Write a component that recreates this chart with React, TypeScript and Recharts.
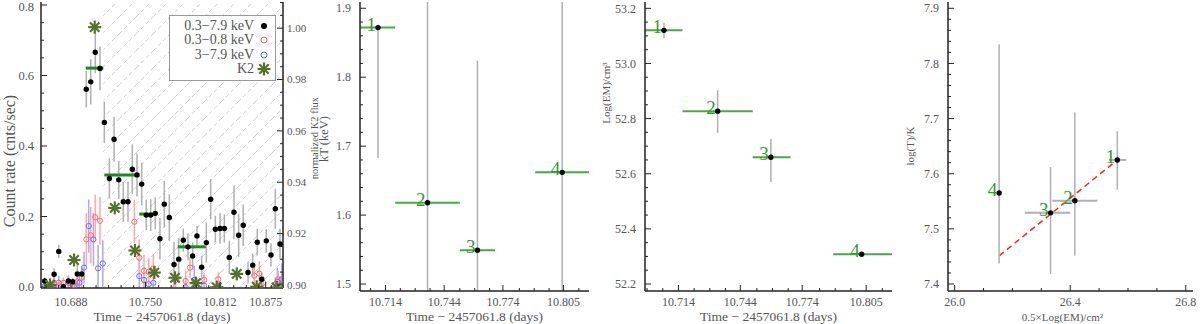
import React from 'react';
import {
  ComposedChart, Scatter, XAxis, YAxis, ErrorBar, ReferenceArea, ReferenceLine, Legend,
} from 'recharts';

// ---------- panel 1: X-ray light curve + K2 ----------
const lcTime = [10.6661, 10.6739, 10.6778, 10.6816, 10.6858, 10.6894, 10.6932, 10.6969, 10.7007, 10.7044,
  10.7082, 10.7121, 10.7157, 10.7199, 10.7238, 10.7277, 10.7315, 10.7354, 10.739, 10.7429,
  10.7468, 10.7506, 10.7543, 10.7581, 10.762, 10.7656, 10.7698, 10.7737, 10.7776, 10.7814,
  10.7853, 10.7892, 10.7928, 10.7967, 10.8006, 10.8042, 10.8081, 10.812, 10.8156, 10.8197,
  10.8236, 10.8275, 10.8313, 10.8353, 10.8392, 10.843, 10.8467, 10.8505, 10.8544, 10.858, 10.8619];
const lcRate = [0.017, 0.036, 0.101, 0.001, 0.017, 0.015, 0.037, 0.037, 0.561, 0.582,
  0.666, 0.62, 0.467, 0.308, 0.419, 0.304, 0.242, 0.242, 0.334, 0.318,
  0.292, 0.204, 0.204, 0.209, 0.137, 0.235, 0.197, 0.064, 0.079, 0.133,
  0.114, 0.088, 0.145, 0.056, 0.126, 0.249, 0.164, 0.166, 0.166, 0.084,
  0.212, 0.147, 0.175, 0.041, 0.062, 0.127, 0.022, 0.131, 0.091, 0.222, 0.122];
const lcErr = [0.01, 0.017, 0.019, 0.005, 0.01, 0.01, 0.035, 0.02, 0.052, 0.064,
  0.059, 0.062, 0.059, 0.057, 0.064, 0.054, 0.057, 0.057, 0.071, 0.061,
  0.061, 0.043, 0.045, 0.045, 0.059, 0.066, 0.066, 0.064, 0.061, 0.033,
  0.038, 0.038, 0.028, 0.033, 0.057, 0.057, 0.038, 0.043, 0.04, 0.047,
  0.076, 0.061, 0.059, 0.031, 0.033, 0.038, 0.019, 0.033, 0.033, 0.057, 0.043];

const softTime = [10.6739, 10.6778, 10.6816, 10.6858, 10.6894, 10.6932, 10.6969, 10.7007, 10.7044, 10.7082,
  10.7121, 10.7407, 10.7448, 10.7487, 10.7526, 10.7565, 10.7751, 10.7834, 10.787, 10.7989,
  10.8106, 10.8405, 10.8447, 10.848, 10.858, 10.8605];
const softRate = [0.012, 0.005, 0.012, 0.015, 0.004, 0.015, 0.027, 0.135, 0.147, 0.198,
  0.188, 0.185, 0.083, 0.046, 0.043, 0.053, 0.02, 0.017, 0.055, 0.02,
  0.022, 0.032, 0.038, 0.012, 0.008, 0.022];
const softErr = [0.015, 0.015, 0.015, 0.02, 0.015, 0.02, 0.03, 0.075, 0.08, 0.064,
  0.068, 0.062, 0.052, 0.045, 0.04, 0.04, 0.02, 0.03, 0.03, 0.02,
  0.02, 0.03, 0.035, 0.02, 0.02, 0.025];

const hardTime = [10.6661, 10.6739, 10.6778, 10.6858, 10.6907, 10.6949, 10.6988, 10.7027, 10.7066, 10.7105,
  10.7144, 10.7448, 10.7487, 10.7526, 10.7565, 10.7834, 10.7906, 10.7987, 10.8106, 10.8597, 10.8633];
const hardRate = [0.003, 0.008, 0.012, 0.012, 0.0, 0.012, 0.055, 0.173, 0.135, 0.053,
  0.067, 0.031, 0.02, 0.008, 0.012, 0.0, 0.02, 0.004, 0.002, 0.015, 0.022];
const hardErr = [0.01, 0.015, 0.02, 0.02, 0.015, 0.02, 0.045, 0.075, 0.075, 0.066,
  0.066, 0.05, 0.04, 0.04, 0.04, 0.03, 0.04, 0.03, 0.02, 0.04, 0.045];

const k2Time = [10.6705, 10.6905, 10.7077, 10.7244, 10.7412, 10.7573, 10.7745, 10.792, 10.8092, 10.8259, 10.8425, 10.8591];
const k2Flux = [0.9, 0.9097, 1.0004, 0.93, 0.9134, 0.9048, 0.9028, 0.9007, 0.8991, 0.9043, 0.8993, 0.899];

const binStart = [10.7002, 10.7157, 10.7448, 10.7768];
const binEnd = [10.7149, 10.7448, 10.7593, 10.8001];
const binRate = [0.621, 0.318, 0.207, 0.114];
const hatchStart = 10.7149;

const legendLabels = ['0.3\u22127.9 keV', '0.3\u22120.8 keV', '3\u22127.9 keV', 'K2'];

const x1Major = [10.688, 10.75, 10.812, 10.85];
const x1Labels = ['10.688', '10.750', '10.812', '10.875'];
const y1Major = [0, 0.2, 0.4, 0.6, 0.8];
const y1Labels = ['0.0', '0.2', '0.4', '0.6', '0.8'];
const k2Major = [0.9, 0.92, 0.94, 0.96, 0.98, 1.0];
const k2Labels = ['0.90', '0.92', '0.94', '0.96', '0.98', '1.00'];

// ---------- panels 2-4: spectral fits per interval ----------
const segNames = ['1', '2', '3', '4'];

const ktTime = [10.7102, 10.7355, 10.761, 10.8043];
const ktVal = [1.872, 1.618, 1.549, 1.662];
const ktLo = [1.683, 1.3, 1.3, 1.3];
const ktHi = [1.876, 2.0, 1.824, 2.0];
const ktBinLo = [10.69, 10.719, 10.752, 10.7905];
const ktBinHi = [10.719, 10.752, 10.77, 10.83];

const emTime = [10.707, 10.733, 10.7588, 10.8028];
const emVal = [53.12, 52.827, 52.66, 52.308];
const emLo = [53.091, 52.748, 52.57, 52.302];
const emHi = [53.148, 52.903, 52.727, 52.314];
const emBinLo = [10.69, 10.716, 10.75, 10.789];
const emBinHi = [10.716, 10.75, 10.7684, 10.83];

const halfEm = [26.563, 26.416, 26.332, 26.154];
const halfEmLo = [26.534, 26.338, 26.243, 26.154];
const halfEmHi = [26.594, 26.494, 26.4, 26.154];
const logT = [7.625, 7.551, 7.529, 7.565];
const logTLo = [7.571, 7.451, 7.418, 7.437];
const logTHi = [7.677, 7.711, 7.612, 7.835];
const fitX = [26.154, 26.563];
const fitY = [7.451, 7.625];

const tMajor = [10.714, 10.744, 10.774, 10.805];
const tLabels = ['10.714', '10.744', '10.774', '10.805'];
const ktMajor = [1.5, 1.6, 1.7, 1.8, 1.9];
const ktLabels = ['1.5', '1.6', '1.7', '1.8', '1.9'];
const emMajor = [52.2, 52.4, 52.6, 52.8, 53.0, 53.2];
const emLabels = ['52.2', '52.4', '52.6', '52.8', '53.0', '53.2'];
const hxMajor = [26.0, 26.4, 26.8];
const hxLabels = ['26.0', '26.4', '26.8'];
const hyMajor = [7.4, 7.5, 7.6, 7.7, 7.8, 7.9];
const hyLabels = ['7.4', '7.5', '7.6', '7.7', '7.8', '7.9'];

// ---------- styling ----------
const FONT = "'Liberation Serif', 'Times New Roman', serif";
const INK = '#222';
const TXT = '#555';
const ERR = '#b0b0b0';
const K2C = '#55702a';
const BIN = '#1f8a1f';
const SEG = '#4aa84a';
const NUM = '#2f9a2f';

type Side = 'bottom' | 'top' | 'left' | 'right';
type Dom = [number, number];

const withMinor = (major: number[], lo: number, hi: number, step: number) => {
  const out: number[] = [...major];
  let v = major[0];
  while (v - step >= lo) v -= step;
  for (; v <= hi + 1e-9; v += step) {
    if (v >= lo && !major.some(m => Math.abs(m - v) < step / 2.5)) out.push(+v.toFixed(6));
  }
  return out.sort((a, b) => a - b);
};

// error bar extents clipped to the visible axis range
const span = (v: number, lo: number, hi: number, d: Dom) => [v - Math.max(lo, d[0]), Math.min(hi, d[1]) - v];

const makeTick = (side: Side, major: number[], labels: string[] | null, fontSize = 12, gap = 0) =>
  (props: any) => {
    const { x, y, payload } = props;
    const i = major.findIndex(m => Math.abs(m - payload.value) < 1e-6);
    const len = i >= 0 ? 6 : 3;
    const dx = side === 'left' ? len : side === 'right' ? -len : 0;
    const dy = side === 'bottom' ? -len : side === 'top' ? len : 0;
    let label = null;
    if (labels && i >= 0) {
      const c = { fill: TXT, fontSize, fontFamily: FONT };
      const ly = Math.max(y, fontSize * 0.55); // keep the top label inside the picture
      if (side === 'bottom') label = <text x={x} y={y + gap} textAnchor="middle" {...c}>{labels[i]}</text>;
      if (side === 'left') label = <text x={x - gap} y={ly} dy="0.35em" textAnchor="end" {...c}>{labels[i]}</text>;
      if (side === 'right') label = <text x={x + gap} y={ly} dy="0.35em" textAnchor="start" {...c}>{labels[i]}</text>;
    }
    return (
      <g>
        <line x1={x} y1={y} x2={x + dx} y2={y + dy} stroke={INK} strokeWidth={1} />
        {label}
      </g>
    );
  };

const vTitle = (text: string, cx: number, cy: number, size: number) => () => (
  <text x={cx} y={cy} transform={`rotate(-90 ${cx} ${cy})`} textAnchor="middle" dominantBaseline="central"
    fontSize={size} fill={TXT} fontFamily={FONT}>{text}</text>
);

const hTitle = (text: string, size: number, cxShift = 0) => (props: any) => {
  const vb = props.viewBox;
  return (
    <text x={vb.x + vb.width / 2 + cxShift} y={vb.y + vb.height - 3} textAnchor="middle"
      fontSize={size} fill={TXT} fontFamily={FONT}>{text}</text>
  );
};

const axisLine = { stroke: INK, strokeWidth: 1.5 };
const common = { tickSize: 0, tickMargin: 0, tickLine: false, interval: 0 as const, allowDataOverflow: true, type: 'number' as const };

const Dot = (r: number, fill: string) => (p: any) => <circle cx={p.cx} cy={p.cy} r={r} fill={fill} />;
const Ring = (r: number, stroke: string) => (p: any) => <circle cx={p.cx} cy={p.cy} r={r} fill="none" stroke={stroke} strokeWidth={1} />;
const Star = (p: any) => {
  const r = 6.5, d = r * 0.72;
  const { cx, cy } = p;
  return (
    <g stroke={K2C} strokeWidth={2.2}>
      <line x1={cx - r} y1={cy} x2={cx + r} y2={cy} />
      <line x1={cx} y1={cy - r} x2={cx} y2={cy + r} />
      <line x1={cx - d} y1={cy - d} x2={cx + d} y2={cy + d} />
      <line x1={cx - d} y1={cy + d} x2={cx + d} y2={cy - d} />
    </g>
  );
};
const Blank = () => <g />;
const NumDot = (p: any) => (
  <g>
    <circle cx={p.cx} cy={p.cy} r={2.7} fill="#000" />
    <text x={p.cx - 2} y={p.cy + 3} textAnchor="end" fontSize={19} fill={NUM} fontFamily={FONT}>{p.payload.n}</text>
  </g>
);

const markers = [
  <circle cx={8} cy={6} r={3} fill="#000" />,
  <circle cx={8} cy={6} r={3} fill="none" stroke="#ff6a6a" />,
  <circle cx={8} cy={6} r={3} fill="none" stroke="#6a6aff" />,
  <Star cx={8} cy={6} />,
];

const LegendBox = () => (
  <div style={{ border: '1px solid #999', background: '#fff', padding: '3px 3px 4px 4px', width: 98, boxSizing: 'content-box' }}>
    {legendLabels.map((l, i) => (
      <div key={l} style={{ display: 'flex', justifyContent: 'flex-end', alignItems: 'center', height: 14.3, fontSize: 14, color: TXT, fontFamily: FONT, whiteSpace: 'nowrap' }}>
        <span>{l}</span>
        <svg width={16} height={12} style={{ marginLeft: 2, overflow: 'visible' }}>{markers[i]}</svg>
      </div>
    ))}
  </div>
);

// ---------- panel 1 ----------
const X1DOM: Dom = [10.663, 10.8644];
const Y1DOM: Dom = [-0.0028, 0.8085];
const K2DOM: Dom = [0.8988, 1.0102];
const x1Ticks = withMinor(x1Major, X1DOM[0], X1DOM[1], 0.0625 / 6);
const y1Ticks = withMinor(y1Major, Y1DOM[0], Y1DOM[1], 0.05);
const k2Ticks = withMinor(k2Major, K2DOM[0], K2DOM[1], 0.005);

const rateRows = (ts: number[], vs: number[], es: number[]) =>
  ts.map((x, i) => ({ x, y: vs[i], ey: span(vs[i], vs[i] - es[i], vs[i] + es[i], Y1DOM) }));
const lcData = rateRows(lcTime, lcRate, lcErr);
const softData = rateRows(softTime, softRate, softErr);
const hardData = rateRows(hardTime, hardRate, hardErr);
const k2Data = k2Time.map((x, i) => ({ x, y: k2Flux[i] }));

const LightCurve = () => (
  <ComposedChart width={330} height={324} margin={{ top: 2, right: 10, bottom: 0, left: 0 }}>
    <defs>
      <pattern id="hatch" patternUnits="userSpaceOnUse" width={17} height={17}>
        <path d="M0,17 L17,0 M-2,2 L2,-2 M15,19 L19,15" stroke="#cdcdcd" strokeWidth={0.9} strokeDasharray="4 3" />
      </pattern>
    </defs>
    <XAxis xAxisId="b" dataKey="x" domain={X1DOM} ticks={x1Ticks} {...common} height={36} axisLine={axisLine}
      tick={makeTick('bottom', x1Major, x1Labels, 12, 18)}
      label={hTitle('Time \u2212 2457061.8 (days)', 13.5)} />
    <XAxis xAxisId="t" dataKey="x" orientation="top" domain={X1DOM} ticks={x1Ticks} {...common} height={0} axisLine={axisLine}
      tick={makeTick('top', x1Major, null)} />
    <YAxis yAxisId="l" dataKey="y" domain={Y1DOM} ticks={y1Ticks} {...common} width={41} axisLine={axisLine}
      tick={makeTick('left', y1Major, y1Labels, 12.5, 7)}
      label={vTitle('Count rate (cnts/sec)', 9, 161, 16)} />
    <YAxis yAxisId="r" dataKey="y" orientation="right" domain={K2DOM} ticks={k2Ticks} {...common} width={37} axisLine={axisLine}
      tick={makeTick('right', k2Major, k2Labels, 11, 4)}
      label={vTitle('normalized K2 flux', 314, 138, 10.5)} />
    <ReferenceArea xAxisId="b" yAxisId="l" x1={hatchStart} x2={X1DOM[1]} y1={Y1DOM[0]} y2={Y1DOM[1]} fill="url(#hatch)" fillOpacity={1} stroke="none" ifOverflow="hidden" />
    <Scatter data={hardData} xAxisId="b" yAxisId="l" shape={Ring(2.6, '#6a6aff')} isAnimationActive={false}>
      <ErrorBar dataKey="ey" direction="y" width={0} stroke="#a8a8ff" strokeWidth={1.5} />
    </Scatter>
    <Scatter data={softData} xAxisId="b" yAxisId="l" shape={Ring(2.6, '#ff6a6a')} isAnimationActive={false}>
      <ErrorBar dataKey="ey" direction="y" width={0} stroke="#ffa8a8" strokeWidth={1.5} />
    </Scatter>
    <Scatter data={lcData} xAxisId="b" yAxisId="l" shape={Dot(2.7, '#000')} isAnimationActive={false}>
      <ErrorBar dataKey="ey" direction="y" width={0} stroke={ERR} strokeWidth={1.5} />
    </Scatter>
    {binRate.map((r, i) => (
      <ReferenceLine key={i} xAxisId="b" yAxisId="l" segment={[{ x: binStart[i], y: r }, { x: binEnd[i], y: r }]}
        stroke={BIN} strokeWidth={3} ifOverflow="hidden" />
    ))}
    <Scatter data={k2Data} xAxisId="b" yAxisId="r" shape={Star} isAnimationActive={false} />
    <Legend layout="vertical" align="center" verticalAlign="middle" content={LegendBox}
      wrapperStyle={{ left: 169, top: 15, width: 'auto' }} />
  </ComposedChart>
);

// ---------- panels 2-4 ----------
const P2X: Dom = [10.701, 10.818];
const P2Y: Dom = [1.4899, 1.9091];
const P3X: Dom = [10.6978, 10.8175];
const P3Y: Dom = [52.1746, 53.2229];
const P4X: Dom = [25.977, 26.825];
const P4Y: Dom = [7.3873, 7.9114];

const fitRows = (xs: number[], xlo: number[], xhi: number[], ys: number[], ylo: number[], yhi: number[], xd: Dom, yd: Dom) =>
  xs.map((x, i) => ({
    x, y: ys[i], n: segNames[i],
    ex: span(x, xlo[i], xhi[i], xd),
    ey: span(ys[i], ylo[i], yhi[i], yd),
  }));
const ktData = fitRows(ktTime, ktBinLo, ktBinHi, ktVal, ktLo, ktHi, P2X, P2Y);
const emData = fitRows(emTime, emBinLo, emBinHi, emVal, emLo, emHi, P3X, P3Y);
const corrData = fitRows(halfEm, halfEmLo, halfEmHi, logT, logTLo, logTHi, P4X, P4Y);

type PanelProps = {
  data: any[]; xDom: Dom; yDom: Dom;
  xMajor: number[]; xLabels: string[]; xStep: number; yMajor: number[]; yLabels: string[]; yStep: number;
  yWidth: number; right: number; xTitle: any; yTitle: any; barColor: string; children?: React.ReactNode;
};

const Panel = (p: PanelProps) => {
  const xt = withMinor(p.xMajor, p.xDom[0], p.xDom[1], p.xStep);
  const yt = withMinor(p.yMajor, p.yDom[0], p.yDom[1], p.yStep);
  return (
    <ComposedChart width={300} height={324} margin={{ top: 2, right: p.right, bottom: 0, left: 0 }}>
      <XAxis xAxisId="b" dataKey="x" domain={p.xDom} ticks={xt} {...common} height={33} axisLine={axisLine}
        tick={makeTick('bottom', p.xMajor, p.xLabels, 12, 15)} label={p.xTitle} />
      <XAxis xAxisId="t" dataKey="x" orientation="top" domain={p.xDom} ticks={xt} {...common} height={0} axisLine={axisLine}
        tick={makeTick('top', p.xMajor, null)} />
      <YAxis yAxisId="l" dataKey="y" domain={p.yDom} ticks={yt} {...common} width={p.yWidth} axisLine={axisLine}
        tick={makeTick('left', p.yMajor, p.yLabels, 12, 9)} label={p.yTitle} />
      <YAxis yAxisId="r" dataKey="y" orientation="right" domain={p.yDom} ticks={yt} {...common} width={0} axisLine={axisLine}
        tick={makeTick('right', p.yMajor, null)} />
      {p.children}
      <Scatter data={p.data} xAxisId="b" yAxisId="l" shape={Blank} isAnimationActive={false}>
        <ErrorBar dataKey="ex" direction="x" width={0} stroke={p.barColor} strokeWidth={2} />
      </Scatter>
      <Scatter data={p.data} xAxisId="b" yAxisId="l" shape={NumDot} isAnimationActive={false}>
        <ErrorBar dataKey="ey" direction="y" width={0} stroke={ERR} strokeWidth={1.5} />
      </Scatter>
    </ComposedChart>
  );
};

export default function App() {
  return (
    <div style={{ position: 'absolute', left: 0, top: 0, width: 1200, height: 324, background: '#fff', fontFamily: FONT }}>
      <div style={{ position: 'absolute', left: 0, top: 0 }}>
        <LightCurve />
      </div>
      <div style={{ position: 'absolute', left: 300, top: 0 }}>
        <Panel data={ktData} xDom={P2X} yDom={P2Y} xMajor={tMajor} xLabels={tLabels} xStep={0.0076}
          yMajor={ktMajor} yLabels={ktLabels} yStep={0.02} yWidth={60} right={11} barColor={SEG}
          xTitle={hTitle('Time \u2212 2457061.8 (days)', 13.5)} yTitle={vTitle('kT (keV)', 24, 139, 12.5)} />
      </div>
      <div style={{ position: 'absolute', left: 600, top: 0 }}>
        <Panel data={emData} xDom={P3X} yDom={P3Y} xMajor={tMajor} xLabels={tLabels} xStep={0.0076}
          yMajor={emMajor} yLabels={emLabels} yStep={0.05} yWidth={45} right={8} barColor={SEG}
          xTitle={hTitle('Time \u2212 2457061.8 (days)', 13.5)} yTitle={vTitle('Log(EM)/cm\u00b3', 6, 93, 11)} />
      </div>
      <div style={{ position: 'absolute', left: 900, top: 0 }}>
        <Panel data={corrData} xDom={P4X} yDom={P4Y} xMajor={hxMajor} xLabels={hxLabels} xStep={0.1}
          yMajor={hyMajor} yLabels={hyLabels} yStep={0.02} yWidth={48} right={7} barColor={ERR}
          xTitle={hTitle('0.5\u00d7Log(EM)/cm\u00b2', 11, -8)} yTitle={vTitle('log(T)/K', 10, 146, 11)}>
          <ReferenceLine xAxisId="b" yAxisId="l" segment={[{ x: fitX[0], y: fitY[0] }, { x: fitX[1], y: fitY[1] }]}
            stroke="#ff2020" strokeWidth={1.5} strokeDasharray="6 4" />
        </Panel>
      </div>
    </div>
  );
}
